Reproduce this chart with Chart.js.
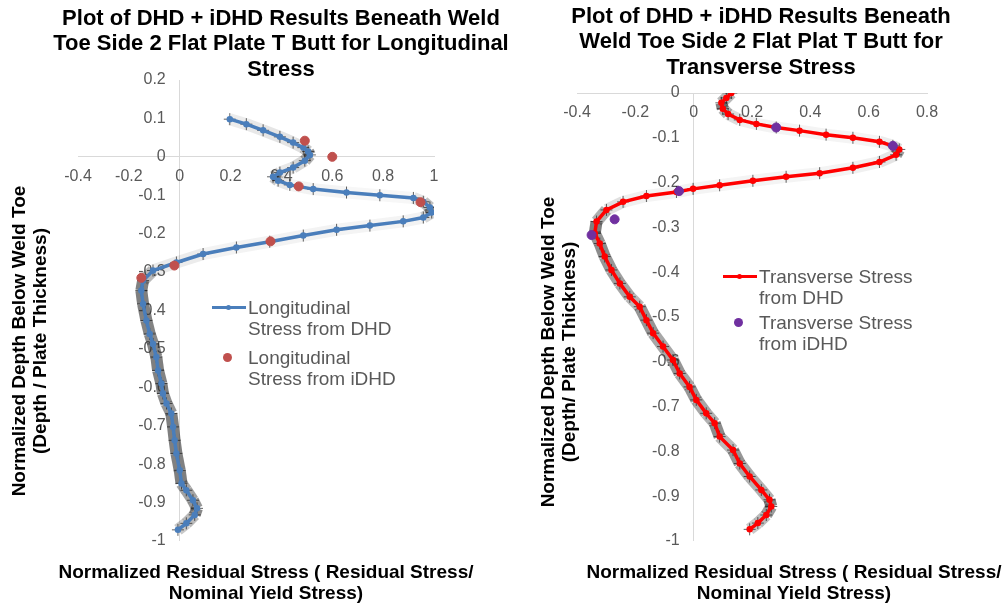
<!DOCTYPE html>
<html>
<head>
<meta charset="utf-8">
<script src="https://cdn.jsdelivr.net/npm/chart.js@4.4.1/dist/chart.umd.min.js"></script>
<style>
  body { margin: 0; background: #fff; }
  #wrap { position: relative; width: 1008px; height: 604px; overflow: hidden; font-family: "Liberation Sans", Arial, sans-serif; }
  canvas { position: absolute; top: 0; }
  .title { position: absolute; font-weight: bold; font-size: 22px; line-height: 25.5px; color: #000; text-align: center; white-space: nowrap; }
  .axt { position: absolute; font-weight: bold; font-size: 19px; line-height: 21px; color: #000; text-align: center; white-space: nowrap; }
  .yt { transform: rotate(-90deg); transform-origin: 50% 50%; width: 400px; height: 42px; }
  .leg { position: absolute; font-size: 19px; line-height: 21px; color: #595959; white-space: nowrap; }
  .leg .row { position: relative; padding-left: 36px; margin-bottom: 8px; }
  .leg .ln { position: absolute; left: 0; top: 9px; width: 34px; height: 3px; }
  .leg .ln i { position: absolute; left: 14px; top: -1px; width: 5px; height: 5px; border-radius: 50%; }
  .leg .dot { position: absolute; left: 11px; top: 6px; width: 9px; height: 9px; border-radius: 50%; }
</style>
</head>
<body>
<div id="wrap">
  <canvas id="cLong" width="504" height="604" style="left:0;width:504px;height:604px"></canvas>
  <canvas id="cTrans" width="504" height="604" style="left:504px;width:504px;height:604px"></canvas>

  <div class="title" style="left:1px;width:560px;top:4.5px">Plot of DHD + iDHD Results Beneath Weld<br>Toe Side 2 Flat Plate T Butt for Longitudinal<br>Stress</div>
  <div class="title" style="left:481px;width:560px;top:2.5px">Plot of DHD + iDHD Results Beneath<br>Weld Toe Side 2 Flat Plat T Butt for<br>Transverse Stress</div>

  <div class="axt" style="left:16px;width:500px;top:561px">Normalized Residual Stress ( Residual Stress/<br>Nominal Yield Stress)</div>
  <div class="axt" style="left:544px;width:500px;top:561px">Normalized Residual Stress ( Residual Stress/<br>Nominal Yield Stress)</div>

  <div class="axt yt" style="left:-171px;top:320px">Normalized Depth Below Weld Toe<br>(Depth / Plate Thickness)</div>
  <div class="axt yt" style="left:358px;top:331px">Normalized Depth Below Weld Toe<br>(Depth/ Plate Thickness)</div>

  <div class="leg" style="left:212px;top:297px">
    <div class="row"><span class="ln" style="background:#4A7EBB"><i style="background:#4A7EBB"></i></span>Longitudinal<br>Stress from DHD</div>
    <div class="row"><span class="dot" style="background:#C0504D"></span>Longitudinal<br>Stress from iDHD</div>
  </div>
  <div class="leg" style="left:723px;top:266px">
    <div class="row" style="margin-bottom:4px"><span class="ln" style="background:#FF0000"><i style="background:#FF0000"></i></span>Transverse Stress<br>from DHD</div>
    <div class="row"><span class="dot" style="background:#7030A0"></span>Transverse Stress<br>from iDHD</div>
  </div>
</div>

<script>
// depth below weld toe (y) and normalized stress (x)
const longDepth = [0.098, 0.085, 0.069, 0.052, 0.037, 0.024, 0.014, 0.005, -0.010, -0.028,
  -0.041, -0.052, -0.062, -0.073, -0.084, -0.093, -0.100, -0.107, -0.117, -0.132,
  -0.145, -0.158, -0.168, -0.179, -0.190, -0.205, -0.221, -0.236, -0.253, -0.275,
  -0.296, -0.322, -0.348, -0.383, -0.426, -0.461, -0.487, -0.521, -0.556, -0.590,
  -0.616, -0.642, -0.668, -0.703, -0.738, -0.772, -0.816, -0.850, -0.868, -0.894,
  -0.915, -0.932, -0.954, -0.971];
const longDHD = [0.197, 0.262, 0.328, 0.394, 0.446, 0.486, 0.505, 0.512, 0.492, 0.446,
  0.394, 0.367, 0.387, 0.433, 0.525, 0.656, 0.787, 0.919, 0.958, 0.984,
  0.991, 0.958, 0.879, 0.748, 0.617, 0.486, 0.354, 0.223, 0.092, -0.013,
  -0.105, -0.144, -0.151, -0.144, -0.131, -0.118, -0.105, -0.092, -0.085, -0.072,
  -0.066, -0.052, -0.033, -0.026, -0.020, -0.013, 0.000, 0.007, 0.026, 0.052,
  0.068, 0.059, 0.026, -0.007];
const longIDepth = [0.042, 0.0, -0.077, -0.118, -0.220, -0.283, -0.315];
const longIDHD = [0.492, 0.600, 0.468, 0.947, 0.357, -0.021, -0.151];

const transDepth = [0.0, -0.011, -0.022, -0.035, -0.047, -0.060, -0.069, -0.077, -0.084, -0.093,
  -0.100, -0.109, -0.118, -0.126, -0.138, -0.154, -0.167, -0.179, -0.187, -0.196,
  -0.206, -0.214, -0.221, -0.230, -0.243, -0.261, -0.287, -0.313, -0.336, -0.365,
  -0.395, -0.425, -0.455, -0.477, -0.507, -0.536, -0.566, -0.596, -0.626, -0.656,
  -0.685, -0.715, -0.737, -0.767, -0.797, -0.827, -0.856, -0.886, -0.908, -0.923,
  -0.942, -0.960, -0.974];
const transDHD = [0.129, 0.112, 0.095, 0.100, 0.118, 0.158, 0.215, 0.283, 0.363, 0.454,
  0.546, 0.637, 0.683, 0.705, 0.694, 0.637, 0.546, 0.432, 0.317, 0.203,
  0.089, -0.002, -0.059, -0.162, -0.242, -0.299, -0.333, -0.339, -0.322, -0.305,
  -0.282, -0.253, -0.219, -0.185, -0.162, -0.139, -0.105, -0.071, -0.048, -0.014,
  0.009, 0.043, 0.072, 0.089, 0.135, 0.158, 0.192, 0.232, 0.260, 0.266,
  0.249, 0.220, 0.192];
const transIDepth = [-0.077, -0.118, -0.219, -0.282, -0.317];
const transIDHD = [0.283, 0.683, -0.050, -0.271, -0.350];

Chart.defaults.font.family = "'Liberation Sans', Arial, sans-serif";
Chart.defaults.font.size = 16;
Chart.defaults.color = "#595959";

const AXIS_COLOR = "#d9d9d9";

function pts(xs, ys) {
  return xs.map((x, i) => ({ x, y: ys[i] }));
}

function tickLabel(v) {
  return String(Math.round(v * 10) / 10);
}

// horizontal error bars only thicken the band where the curve runs steeply
function haloColor(ctx) {
  const dx = ctx.p1.x - ctx.p0.x;
  const dy = ctx.p1.y - ctx.p0.y;
  const s = Math.abs(dy) / (Math.hypot(dx, dy) || 1);
  return `rgba(45,45,45,${(0.04 + 0.58 * s * s).toFixed(2)})`;
}

function depthChart(canvas, o) {
  return new Chart(canvas.getContext("2d"), {
    type: "scatter",
    data: {
      datasets: [
        {
          data: pts(o.ivals, o.idepth),
          backgroundColor: o.dotColor,
          borderColor: o.dotColor,
          pointRadius: 4.5,
          showLine: false,
        },
        {
          data: pts(o.vals, o.depth),
          borderColor: o.lineColor,
          backgroundColor: o.lineColor,
          borderWidth: 3.5,
          pointRadius: 1.5,
          showLine: true,
        },
        // grey error-bar halo under the line
        {
          data: pts(o.vals, o.depth),
          borderWidth: 12,
          segment: { borderColor: haloColor },
          pointStyle: "cross",
          pointRadius: 6,
          pointBorderColor: "rgba(30,30,30,0.7)",
          pointBorderWidth: 1,
          showLine: true,
        },
      ],
    },
    options: {
      responsive: false,
      animation: false,
      layout: { padding: o.pad },
      plugins: { legend: { display: false }, tooltip: { enabled: false } },
      scales: {
        x: {
          type: "linear",
          position: { y: 0 },
          min: o.xmin,
          max: o.xmax,
          ticks: { stepSize: 0.2, padding: 10, callback: tickLabel, maxRotation: 0 },
          grid: {
            drawTicks: false,
            color: (c) => (c.tick && Math.abs(c.tick.value) < 1e-9 ? AXIS_COLOR : "rgba(0,0,0,0)"),
          },
          border: { display: true, color: AXIS_COLOR },
        },
        y: {
          type: "linear",
          position: { x: o.ylabelAt },
          min: o.ymin,
          max: o.ymax,
          ticks: { stepSize: 0.1, callback: tickLabel },
          grid: { display: false },
          border: { display: false },
        },
      },
    },
  });
}

depthChart(document.getElementById("cLong"), {
  depth: longDepth, vals: longDHD, idepth: longIDepth, ivals: longIDHD,
  lineColor: "#4A7EBB", dotColor: "#C0504D",
  xmin: -0.4, xmax: 1, ymin: -1, ymax: 0.2, ylabelAt: -0.055,
  pad: { left: 78, right: 70, top: 80, bottom: 63 },
});

depthChart(document.getElementById("cTrans"), {
  depth: transDepth, vals: transDHD, idepth: transIDepth, ivals: transIDHD,
  lineColor: "#FF0000", dotColor: "#7030A0",
  xmin: -0.4, xmax: 0.8, ymin: -1, ymax: 0, ylabelAt: -0.048,
  pad: { left: 73, right: 81, top: 93, bottom: 63 },
});
</script>
</body>
</html>
